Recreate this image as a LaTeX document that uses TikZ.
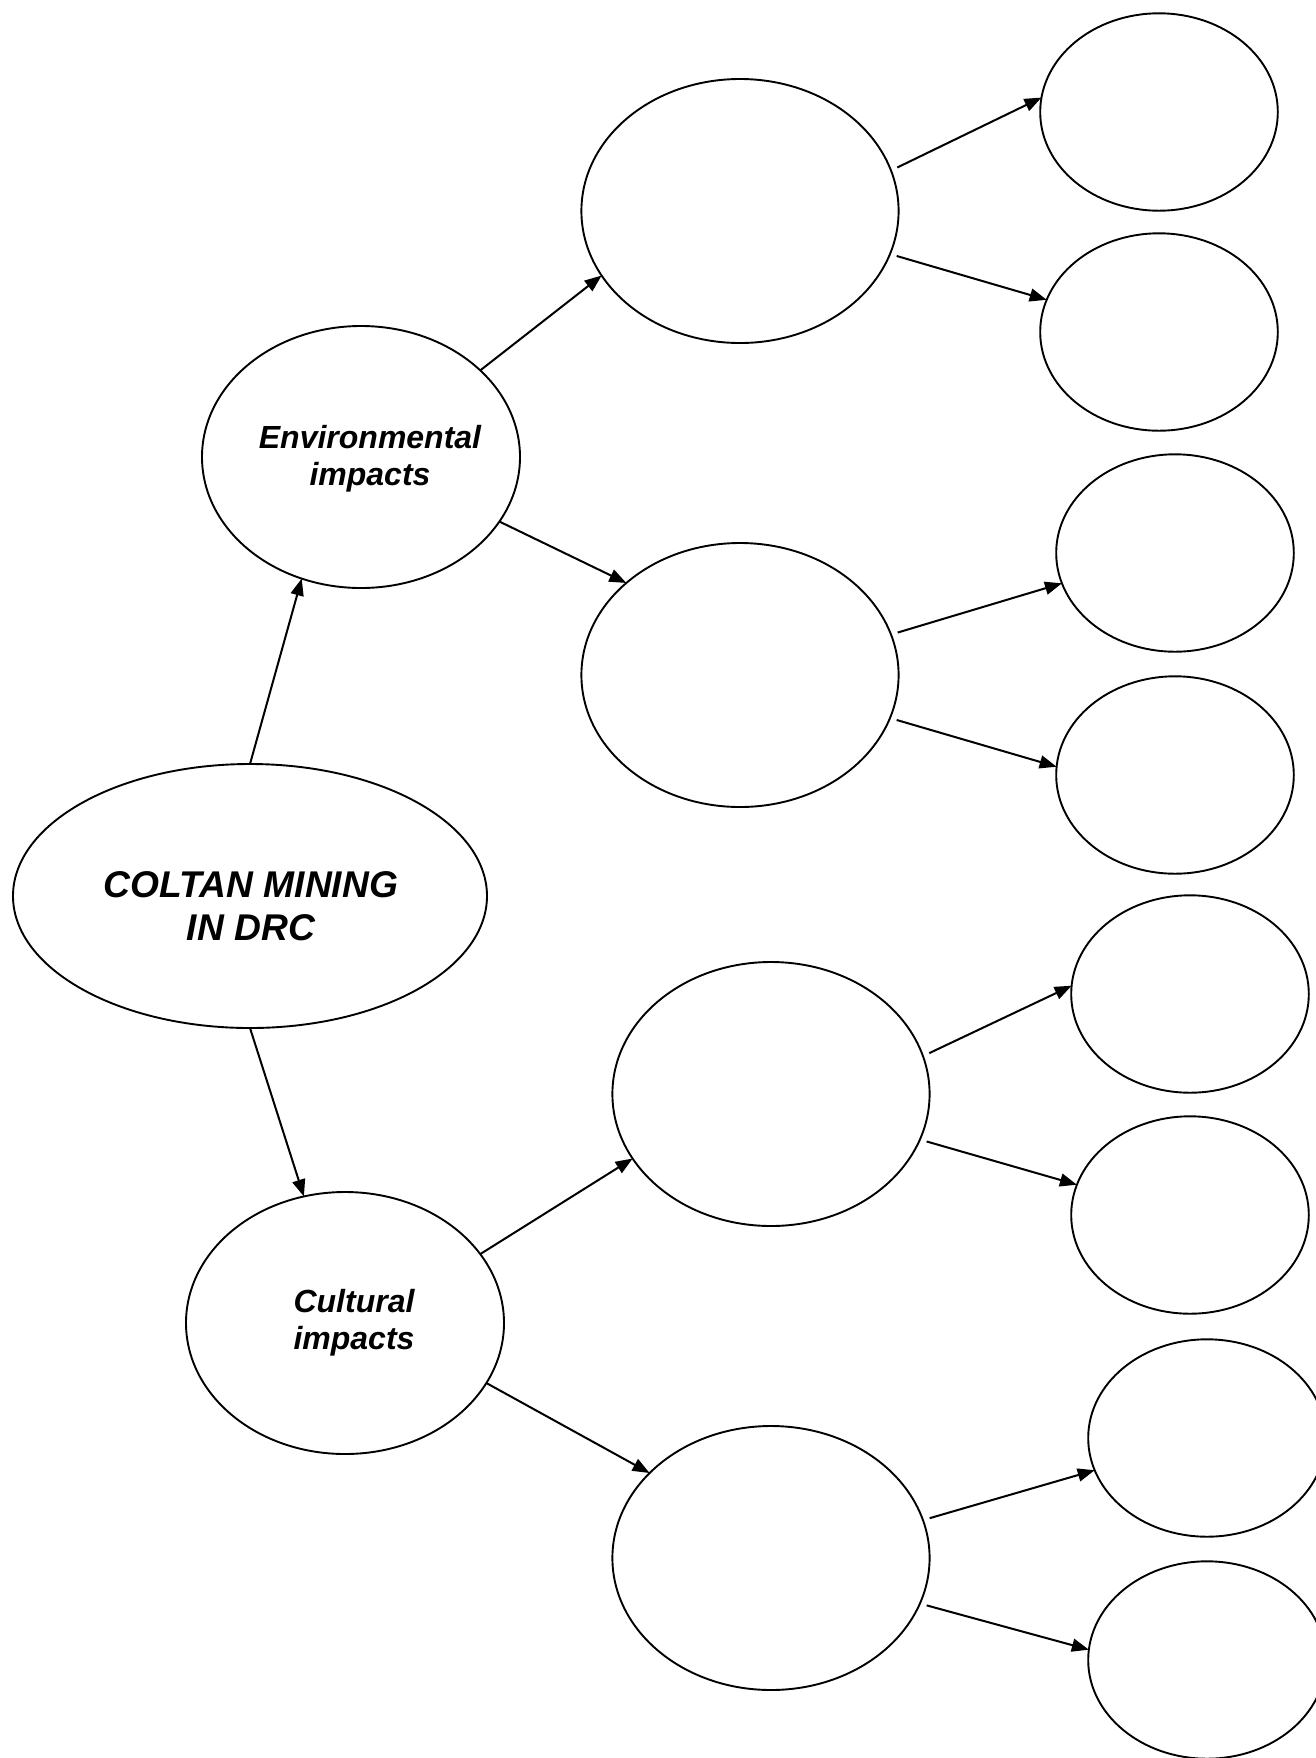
\documentclass[tikz,border=0pt]{standalone}
\usepackage{fontspec}
\setmainfont{Liberation Sans}
\usetikzlibrary{shapes.geometric,arrows.meta}
\begin{document}
\begin{tikzpicture}[x=0.5pt,y=-0.5pt,
  bub/.style={draw,ellipse,line width=0.95pt,inner sep=0pt,outer sep=0pt},
  mainbub/.style={bub,minimum width=237pt,minimum height=132pt},
  catbub/.style={bub,minimum width=159pt,minimum height=131pt},
  midbub/.style={bub,minimum width=158.6pt,minimum height=132pt},
  leafbub/.style={bub,minimum width=118.8pt,minimum height=98.7pt},
  lbl/.style={align=center},
  arr/.style={line width=1pt,-{Triangle[length=8.5pt,width=6.5pt]}},
  farr/.style={arr,shorten <=3.5pt}]
\useasboundingbox (0,0) rectangle (1316,1758);
% bubbles
\node[mainbub] (main) at (250,896) {};
\node[catbub] (env) at (361,457) {};
\node[catbub] (cult) at (345,1323) {};
\node[midbub] (m1) at (740,211) {};
\node[midbub] (m2) at (740,675) {};
\node[midbub] (m3) at (771,1094) {};
\node[midbub] (m4) at (771,1558) {};
\node[leafbub] (r1) at (1159,112) {};
\node[leafbub] (r2) at (1159,332) {};
\node[leafbub] (r3) at (1175,553) {};
\node[leafbub] (r4) at (1175,775) {};
\node[leafbub] (r5) at (1190,994) {};
\node[leafbub] (r6) at (1190,1215) {};
\node[leafbub] (r7) at (1207,1438) {};
\node[leafbub] (r8) at (1207,1660) {};
% labels
\node[lbl,font=\fontsize{18.6}{21.5}\selectfont\bfseries\itshape] (tmain) at (251,906) {COLTAN MINING\\IN DRC};
\node[lbl,font=\fontsize{16}{18.5}\selectfont\bfseries\itshape] (tenv) at (370,459) {Environmental\\impacts};
\node[lbl,font=\fontsize{16}{18.5}\selectfont\bfseries\itshape] (tcult) at (354,1323) {Cultural\\impacts};
% connectors
\draw[arr] (main.90) -- (env.244.8);
\draw[arr] (main.270) -- (cult.108.6);
\draw[arr] (env.36.1) -- (m1.205.1);
\draw[arr] (env.335.9) -- (m2.141);
\draw[farr] (m1.15.1) -- (r1.173.8);
\draw[farr] (m1.344.2) -- (r2.164.1);
\draw[farr] (m2.15.1) -- (r3.195.1);
\draw[farr] (m2.344.2) -- (r4.176.2);
\draw[arr] (cult.27.2) -- (m3.205.3);
\draw[arr] (cult.337.1) -- (m4.145.2);
\draw[farr] (m3.14.8) -- (r5.176.6);
\draw[farr] (m3.343.5) -- (r6.165.3);
\draw[farr] (m4.14.1) -- (r7.196.3);
\draw[farr] (m4.343.5) -- (r8.175.2);
\end{tikzpicture}
\end{document}
